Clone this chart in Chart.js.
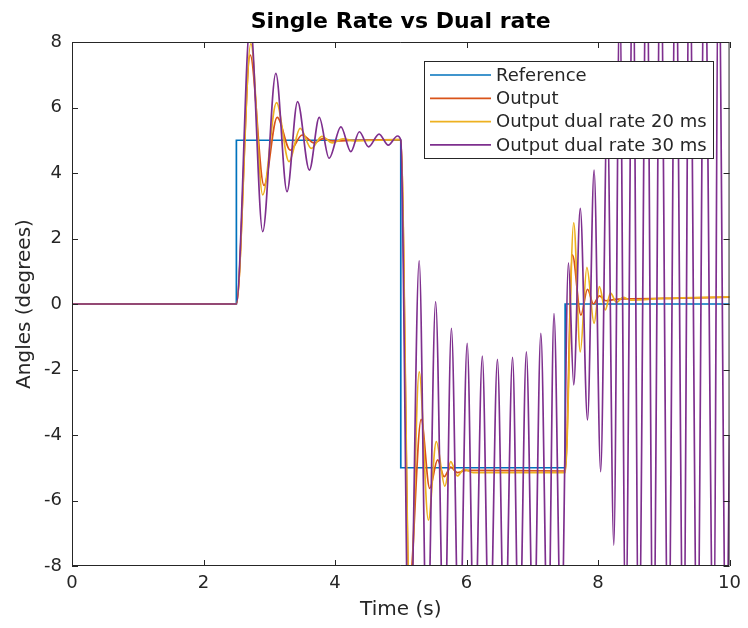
<!DOCTYPE html>
<html><head><meta charset="utf-8">
<script src="https://cdn.jsdelivr.net/npm/chart.js@4.4.1/dist/chart.umd.min.js"></script>
<style>html,body{margin:0;padding:0;background:#fff}#wrap{width:748px;height:628px}</style>
</head><body><div id="wrap"><canvas id="c" width="748" height="628"></canvas></div>
<script>
const chartTitle = 'Single Rate vs Dual rate';
const xLabel = 'Time (s)';
const yLabel = 'Angles (degrees)';
const xTicks = [0, 2, 4, 6, 8, 10];
const yTicks = [-8, -6, -4, -2, 0, 2, 4, 6, 8];
const seriesNames = ['Reference', 'Output', 'Output dual rate 20 ms', 'Output dual rate 30 ms'];

const refT = [0, 2.5, 2.5, 5.0, 5.0, 7.5, 7.5, 10];
const refY = [0, 0, 5, 5, -5, -5, 0, 0];

const outT = [0, 2.5, 2.71, 2.92, 3.12, 3.32, 3.50, 3.68, 3.82, 3.96, 4.3, 5.0,
  5.13, 5.31, 5.44, 5.56, 5.66, 5.76, 5.86, 6.0, 7.5,
  7.61, 7.74, 7.84, 7.93, 8.02, 8.12, 8.3, 9.0, 10];
const outY = [0, 0, 7.6, 3.62, 5.70, 4.70, 5.16, 4.92, 5.05, 4.98, 5.0, 5.02,
  -8.6, -3.52, -5.63, -4.76, -5.27, -4.98, -5.15, -5.08, -5.10,
  1.50, -0.34, 0.45, 0.0, 0.25, 0.10, 0.15, 0.17, 0.21];

const dr20T = [0, 2.5, 2.72, 2.90, 3.11, 3.30, 3.47, 3.64, 3.80, 3.96, 4.12, 4.3, 5.0,
  5.14, 5.28, 5.42, 5.54, 5.67, 5.76, 5.86, 5.96, 6.1, 7.5,
  7.63, 7.73, 7.83, 7.94, 8.02, 8.11, 8.19, 8.28, 8.38, 8.5, 9.0, 10];
const dr20Y = [0, 0, 7.95, 3.33, 6.15, 4.35, 5.36, 4.75, 5.12, 4.92, 5.04, 4.98, 5.02,
  -9.5, -2.07, -6.6, -4.20, -5.56, -4.81, -5.25, -5.05, -5.15, -5.15,
  2.48, -1.46, 1.12, -0.59, 0.53, -0.18, 0.33, 0.05, 0.20, 0.12, 0.17, 0.22];

const dr30T = [0, 2.5, 2.71, 2.90, 3.10, 3.27, 3.43, 3.61, 3.76, 3.91, 4.09, 4.24, 4.37, 4.51, 4.67, 4.81, 4.95, 5.0,
  5.13, 5.28, 5.40, 5.53, 5.66, 5.77, 5.89, 6.01, 6.12, 6.24, 6.35, 6.47, 6.58, 6.70, 6.80, 6.91, 7.02, 7.13, 7.24, 7.33, 7.44,
  7.55, 7.63, 7.73, 7.84, 7.94, 8.04, 8.14, 8.24, 8.33, 8.42, 8.53, 8.62, 8.74, 8.84, 8.95, 9.07, 9.18, 9.30, 9.39, 9.51, 9.62, 9.76, 9.83, 9.95, 10];
const dr30Y = [0, 0, 8.6, 2.21, 7.04, 3.43, 6.18, 4.09, 5.70, 4.45, 5.41, 4.65, 5.26, 4.80, 5.19, 4.85, 5.13, 5.0,
  -12, 1.32, -11, 0.07, -11, -0.74, -11, -1.20, -11, -1.59, -11, -1.69, -11, -1.63, -11, -1.46, -11, -0.90, -11, -0.29, -10.5,
  1.26, -2.47, 2.92, -3.54, 4.09, -5.12, 6.0, -7.36, 9.5, -10, 11, -11, 11.5, -11.5, 11.5, -11.5, 11.5, -11.5, 11.5, -11.5, 11.5, -11.5, 11.5, -11.5, -4];

const colors = ['#0072BD', '#D95319', '#EDB120', '#7E2F8E'];
const FONT = "'DejaVu Sans', 'Liberation Sans', sans-serif";
const AX = '#262626';

function pts(t, y) { return t.map((v, i) => ({x: v, y: y[i]})); }

const seriesT = [refT, outT, dr20T, dr30T];
const seriesY = [refY, outY, dr20Y, dr30Y];

const datasets = seriesNames.map((name, i) => ({
  label: name,
  data: pts(seriesT[i], seriesY[i]),
  borderColor: colors[i],
  backgroundColor: colors[i],
  borderWidth: 1.7,
  pointRadius: 0,
  fill: false,
  tension: 0,
  cubicInterpolationMode: i === 0 ? 'default' : 'monotone',
  clip: 0,
  order: 4 - i
}));

const framePlugin = {
  id: 'matlabFrame',
  afterDatasetsDraw(chart) {
    const {ctx, chartArea: a, scales} = chart;
    ctx.save();
    ctx.strokeStyle = AX;
    ctx.lineWidth = 1;
    ctx.beginPath();
    ctx.rect(a.left + 0.5, a.top + 0.5, a.right - a.left - 1, a.bottom - a.top - 1);
    ctx.stroke();
    const L = 6;
    ctx.beginPath();
    xTicks.forEach(v => {
      const px = Math.round(scales.x.getPixelForValue(v)) + 0.5;
      ctx.moveTo(px, a.bottom); ctx.lineTo(px, a.bottom - L);
      ctx.moveTo(px, a.top); ctx.lineTo(px, a.top + L);
    });
    yTicks.forEach(v => {
      const py = Math.round(scales.y.getPixelForValue(v)) + 0.5;
      ctx.moveTo(a.left, py); ctx.lineTo(a.left + L, py);
      ctx.moveTo(a.right, py); ctx.lineTo(a.right - L, py);
    });
    ctx.stroke();
    ctx.restore();
  },
  afterDraw(chart) {
    const {ctx, chartArea: a} = chart;
    ctx.save();
    ctx.fillStyle = '#000';
    ctx.font = 'bold 22px ' + FONT;
    ctx.textAlign = 'center';
    ctx.textBaseline = 'middle';
    ctx.fillText(chartTitle, (a.left + a.right) / 2, 22);
    const bx = 424.5, by = 61.5, bw = 289, bh = 97;
    ctx.fillStyle = '#fff';
    ctx.fillRect(bx, by, bw, bh);
    ctx.strokeStyle = AX;
    ctx.lineWidth = 1;
    ctx.strokeRect(bx, by, bw, bh);
    ctx.font = '18px ' + FONT;
    ctx.textAlign = 'left';
    ctx.textBaseline = 'middle';
    seriesNames.forEach((name, i) => {
      const y = 75 + i * 23.3;
      ctx.strokeStyle = colors[i];
      ctx.lineWidth = 1.7;
      ctx.beginPath();
      ctx.moveTo(430, y); ctx.lineTo(491, y);
      ctx.stroke();
      ctx.fillStyle = AX;
      ctx.fillText(name, 496, y + 1);
    });
    ctx.restore();
  }
};

new Chart(document.getElementById('c'), {
  type: 'line',
  data: {datasets},
  options: {
    responsive: false,
    animation: false,
    devicePixelRatio: 1,
    layout: {padding: {top: 42, right: 17, left: 0, bottom: 0}},
    plugins: {legend: {display: false}, tooltip: {enabled: false}, title: {display: false}},
    scales: {
      x: {
        type: 'linear', min: 0, max: 10,
        afterFit(s) { s.height = 62; },
        afterBuildTicks(s) { s.ticks = xTicks.map(v => ({value: v})); },
        grid: {display: false, drawTicks: false},
        border: {display: false},
        ticks: {color: AX, font: {family: FONT, size: 18}, padding: 7, maxRotation: 0, autoSkip: false},
        title: {display: true, text: xLabel, color: AX, font: {family: FONT, size: 20}, padding: {top: 0, bottom: 6}}
      },
      y: {
        type: 'linear', min: -8, max: 8,
        afterFit(s) { s.width = 72; },
        afterBuildTicks(s) { s.ticks = yTicks.map(v => ({value: v})); },
        grid: {display: false, drawTicks: false},
        border: {display: false},
        ticks: {color: AX, font: {family: FONT, size: 18}, padding: 10, autoSkip: false},
        title: {display: true, text: yLabel, color: AX, font: {family: FONT, size: 20}, padding: {top: 13, bottom: 0}}
      }
    }
  },
  plugins: [framePlugin]
});
</script>
</body></html>
